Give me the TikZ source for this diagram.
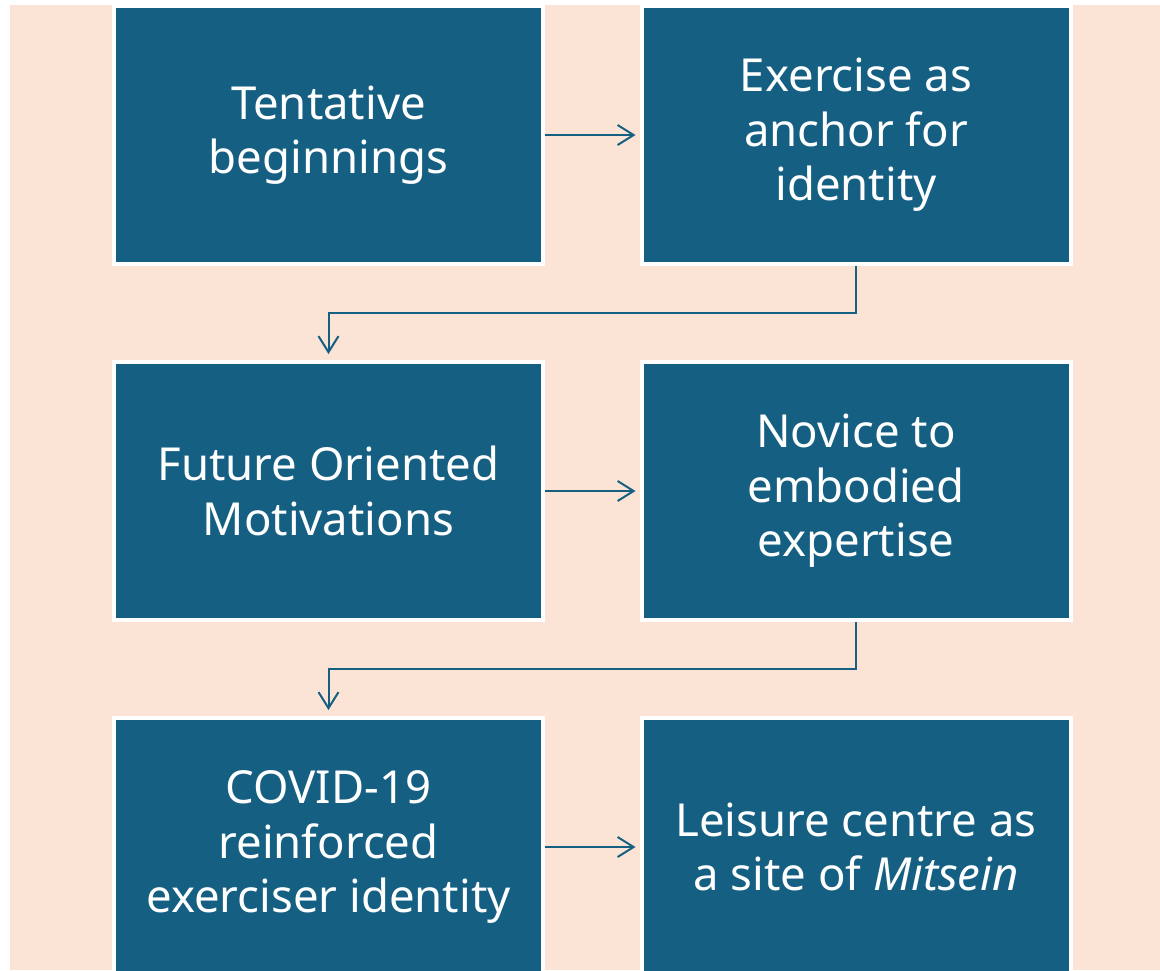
\documentclass[tikz,border=0pt]{standalone}
\usepackage{fontspec}
\setmainfont{Noto Sans}
\usetikzlibrary{arrows.meta}
\definecolor{boxblue}{HTML}{156082}
\definecolor{peach}{HTML}{FBE3D6}
\tikzset{
  box/.style={draw=white, line width=4pt, fill=boxblue, minimum width=429pt, minimum height=258pt,
    text=white, align=center, inner sep=0pt, font=\fontsize{45.5}{54.5}\selectfont},
  conn/.style={draw=boxblue, line width=2pt, -{Straight Barb[length=16pt,width=20pt,line width=2pt]}},
}
\begin{document}
\begin{tikzpicture}[x=1pt,y=-1pt]
\useasboundingbox (0,0) rectangle (1160,970);
\clip (0,0) rectangle (1160,970);
\fill[white] (0,0) rectangle (1160,970);
\fill[peach] (10,5) rectangle (1160,970);
\node[box] (b1) at (328.5,135) {Tentative\\beginnings};
\node[box] (b2) at (856,135) {Exercise as\\anchor for\\identity};
\node[box] (b3) at (328.5,491) {Future Oriented\\Motivations};
\node[box] (b4) at (856,491) {Novice to\\embodied\\expertise};
\node[box] (b5) at (328.5,847) {COVID-19\\reinforced\\exerciser identity};
\node[box] (b6) at (856,847) {Leisure centre as\\a site of \textit{Mitsein}};
\coordinate (m1) at (0,313);
\coordinate (m2) at (0,669);
\draw[conn, shorten >=4pt] (b1.east) -- (b2.west);
\draw[conn, shorten >=4pt] (b3.east) -- (b4.west);
\draw[conn, shorten >=4pt] (b5.east) -- (b6.west);
\draw[conn, shorten >=6pt] (b2.south) -- (b2.south |- m1) -- (b3.north |- m1) -- (b3.north);
\draw[conn, shorten >=6pt] (b4.south) -- (b4.south |- m2) -- (b5.north |- m2) -- (b5.north);
\end{tikzpicture}
\end{document}
